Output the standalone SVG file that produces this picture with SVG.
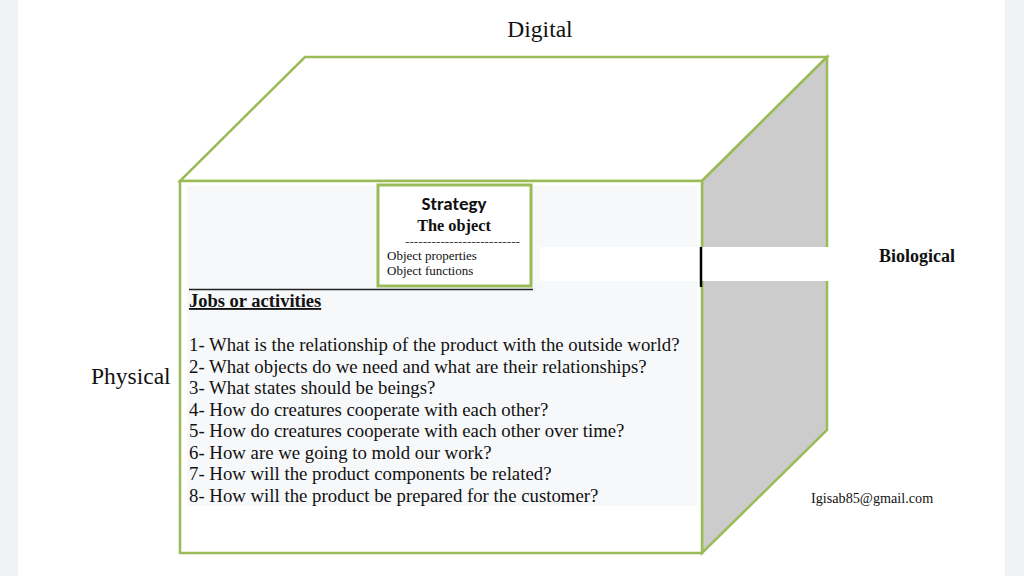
<svg xmlns="http://www.w3.org/2000/svg" width="1024" height="576" viewBox="0 0 1024 576">
<style>
.cube{stroke:#9bbb59;stroke-width:2.5;stroke-linejoin:miter}
.serif{font-family:"Liberation Serif","Times New Roman",serif;fill:#111}
.sans{font-family:Carlito,"Liberation Sans",Arial,sans-serif;fill:#111}
.q{font-size:18.8px}
</style>
<rect width="1024" height="576" fill="#f1f2f4"/>
<rect x="18" y="0" width="987" height="576" fill="#ffffff"/>
<text class="serif" x="540" y="37" font-size="23.5" text-anchor="middle">Digital</text>
<text class="serif" x="91" y="384" font-size="23.5">Physical</text>
<g id="cube">
<polygon class="cube" points="305,57 827,57 702,181 180,181" fill="#ffffff"/>
<polygon class="cube" points="702,181 827,57 827,430 702,553" fill="#cccccc"/>
<rect class="cube" x="180" y="181" width="522" height="372" fill="#ffffff"/>
<rect x="187" y="186" width="510" height="320" fill="#f7f8fa"/>
</g>
<g id="biological">
<rect x="540" y="247" width="287" height="34" fill="#ffffff"/>
<rect x="827" y="247" width="2" height="34" fill="#ffffff"/>
<line x1="701" y1="247" x2="701" y2="287" stroke="#000" stroke-width="2.5"/>
<text class="serif" x="879" y="262" font-size="18" font-weight="bold" textLength="76" lengthAdjust="spacingAndGlyphs">Biological</text>
</g>
<g id="strategy">
<rect x="378" y="185" width="153" height="101" fill="#ffffff" stroke="#9bbb59" stroke-width="3"/>
<text class="sans" x="454" y="210" font-size="19" font-weight="bold" text-anchor="middle">Strategy</text>
<text class="serif" x="454" y="231" font-size="16.3" font-weight="bold" text-anchor="middle">The object</text>
<text class="serif" x="405" y="245" font-size="11" textLength="115" lengthAdjust="spacingAndGlyphs">--------------------------</text>
<text class="serif" x="387" y="260" font-size="13">Object properties</text>
<text class="serif" x="387" y="275" font-size="13">Object functions</text>
</g>
<line x1="189" y1="289.5" x2="533" y2="289.5" stroke="#222" stroke-width="1.5"/>
<g id="jobs">
<text class="serif" x="189" y="307" font-size="18.5" font-weight="bold" text-decoration="underline">Jobs or activities</text>
<text class="serif q" x="189" y="351">1- What is the relationship of the product with the outside world?</text>
<text class="serif q" x="189" y="372.5">2- What objects do we need and what are their relationships?</text>
<text class="serif q" x="189" y="394">3- What states should be beings?</text>
<text class="serif q" x="189" y="415.5">4- How do creatures cooperate with each other?</text>
<text class="serif q" x="189" y="437">5- How do creatures cooperate with each other over time?</text>
<text class="serif q" x="189" y="458.5">6- How are we going to mold our work?</text>
<text class="serif q" x="189" y="480">7- How will the product components be related?</text>
<text class="serif q" x="189" y="501.5">8- How will the product be prepared for the customer?</text>
</g>
<text class="serif" x="811" y="503" font-size="14.2">Igisab85@gmail.com</text>
</svg>
